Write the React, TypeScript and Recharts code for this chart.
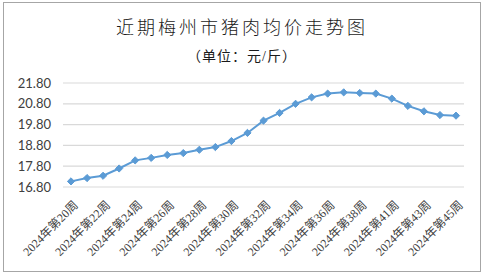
import React from 'react';
import { LineChart, Line, XAxis, YAxis, CartesianGrid } from 'recharts';

const weeks = [
  '2024年第20周', '2024年第21周', '2024年第22周', '2024年第23周', '2024年第24周',
  '2024年第25周', '2024年第26周', '2024年第27周', '2024年第28周', '2024年第29周',
  '2024年第30周', '2024年第31周', '2024年第32周', '2024年第33周', '2024年第34周',
  '2024年第35周', '2024年第36周', '2024年第37周', '2024年第38周', '2024年第39周',
  '2024年第41周', '2024年第42周', '2024年第43周', '2024年第44周', '2024年第45周',
];
const prices = [
  17.07, 17.23, 17.34, 17.69, 18.08,
  18.2, 18.34, 18.43, 18.59, 18.72,
  19.01, 19.4, 19.99, 20.36, 20.8,
  21.11, 21.29, 21.35, 21.32, 21.29,
  21.05, 20.7, 20.44, 20.26, 20.23,
];
const yTicks = [16.8, 17.8, 18.8, 19.8, 20.8, 21.8];

const data = weeks.map((w, i) => ({ week: w, price: prices[i] }));

const serif = '"Liberation Serif", "Noto Sans CJK SC", serif';
const sans = 'Lato, "Open Sans", "Liberation Sans", sans-serif';

const XTick = (props: any) => {
  const { x, y, payload, index } = props;
  if (index % 2 !== 0) return null;
  return (
    <g transform={`translate(${x + 5},${y + 8})`}>
      <text
        textAnchor="end"
        transform="rotate(-45)"
        fontSize={12}
        fontFamily={serif}
        fill="#404040"
        dy={4}
      >
        {payload.value}
      </text>
    </g>
  );
};

const Diamond = (props: any) => {
  const { cx, cy } = props;
  if (cx == null || cy == null) return null;
  const r = 3.6;
  return (
    <path
      d={`M${cx},${cy - r} L${cx + r},${cy} L${cx},${cy + r} L${cx - r},${cy} Z`}
      fill="#5B9BD5"
      stroke="#5B9BD5"
    />
  );
};

export default function App() {
  return (
    <div style={{ position: 'absolute', left: 0, top: 0, width: 484, height: 276, background: '#fff' }}>
      <div
        style={{
          position: 'absolute', left: 3, top: 2, width: 478, height: 270,
          border: '1px solid #a6a6a6', boxSizing: 'border-box',
        }}
      />
      <div
        style={{
          position: 'absolute', left: 0, top: 16, width: 484, textAlign: 'center',
          fontFamily: serif, fontSize: 18, letterSpacing: 3, color: '#1a1a1a', lineHeight: '24px',
          fontWeight: 300,
        }}
      >
        近期梅州市猪肉均价走势图
      </div>
      <div
        style={{
          position: 'absolute', left: 0, top: 47, width: 484, textAlign: 'center',
          fontFamily: serif, fontSize: 14, letterSpacing: 1, color: '#1a1a1a', lineHeight: '20px',
        }}
      >
        （单位：元/斤）
      </div>
      <div style={{ position: 'absolute', left: 0, top: 0 }}>
        <LineChart
          width={484}
          height={276}
          data={data}
          margin={{ top: 83, right: 20, bottom: 0, left: 0 }}
        >
          <CartesianGrid vertical={false} stroke="#d9d9d9" strokeWidth={1.2} />
          <XAxis
            dataKey="week"
            interval={0}
            padding={{ left: 8, right: 8 }}
            axisLine={false}
            tickLine={false}
            height={89}
            tick={<XTick />}
          />
          <YAxis
            domain={[16.8, 21.8]}
            ticks={yTicks}
            interval={0}
            width={63}
            axisLine={false}
            tickLine={false}
            tickFormatter={(v: number) => v.toFixed(2)}
            tick={{ fontSize: 13, fontFamily: sans, fill: '#404040' }}
            tickMargin={6}
          />
          <Line
            type="linear"
            dataKey="price"
            stroke="#5B9BD5"
            strokeWidth={2}
            dot={<Diamond />}
            isAnimationActive={false}
          />
        </LineChart>
      </div>
    </div>
  );
}
